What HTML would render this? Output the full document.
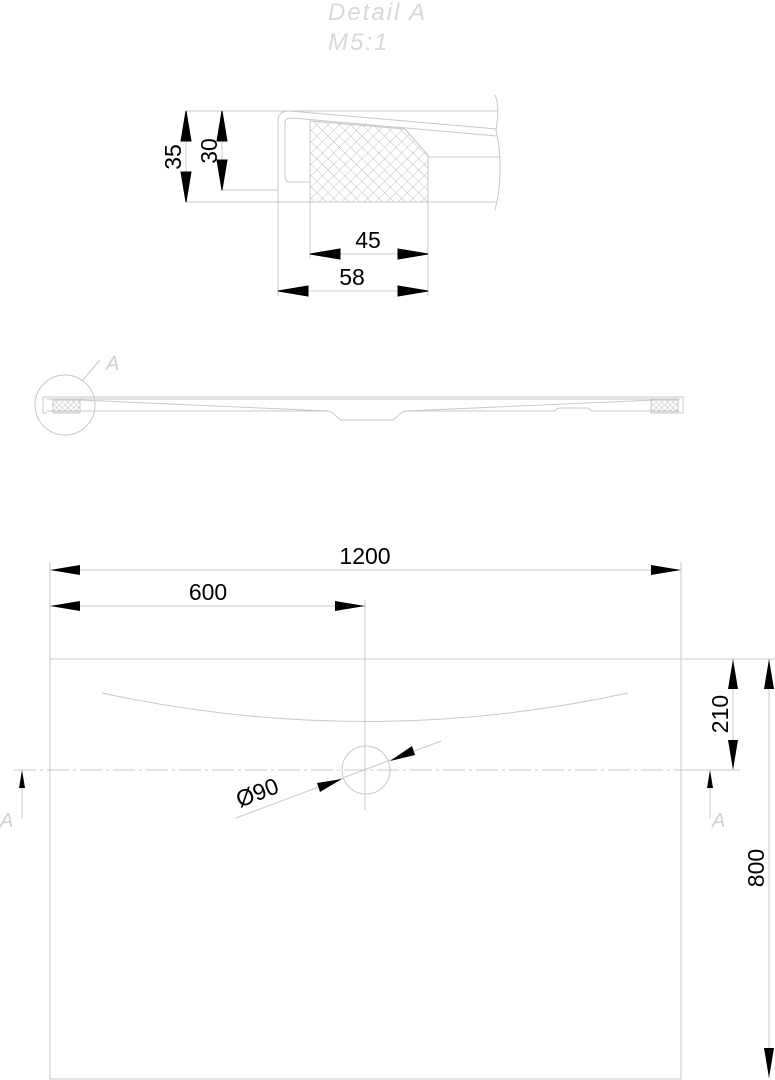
<!DOCTYPE html>
<html><head><meta charset="utf-8"><style>
html,body{margin:0;padding:0;background:#fff;}
svg{display:block;}
text{font-family:"Liberation Sans",sans-serif;}
</style></head><body>
<svg width="775" height="1080" viewBox="0 0 775 1080" xmlns="http://www.w3.org/2000/svg">
<defs>
<pattern id="h" width="8" height="8" patternUnits="userSpaceOnUse" patternTransform="rotate(45)">
<path d="M0 0H8M0 0V8" stroke="#aaa" stroke-width="0.7" fill="none"/>
</pattern>
<pattern id="h2" width="4" height="4" patternUnits="userSpaceOnUse" patternTransform="rotate(45)">
<path d="M0 0H4M0 0V4" stroke="#888" stroke-width="0.5" fill="none"/>
</pattern>
</defs>
<text x="328" y="20" font-size="24" font-style="italic" fill="#d8d8d8" letter-spacing="2">Detail  A</text>
<text x="328" y="50" font-size="24" font-style="italic" fill="#d8d8d8" letter-spacing="2">M5:1</text>

<!-- Detail A -->
<g fill="none" stroke="#c8c8c8" stroke-width="1">
<path d="M186 111H497"/>
<path d="M186 202H497"/>
<path d="M220 190H278"/>
<path d="M278 202V296"/>
<path d="M428 202V296"/>
<path d="M310 202V258"/>
<path d="M278 202V120Q278 111 290 111"/>
<path d="M310 182H290Q285 182 285 177V123Q285 118 292 118L497 136"/>
<path d="M290 111L497 129"/>
<path d="M428 157H500"/>
<path d="M495 95Q500 105 496 130Q505 170 495 210"/>
</g>
<polygon points="310,121 405,129 428,155 428,202 310,202" fill="url(#h)" stroke="#c8c8c8"/>
<g stroke="#000" stroke-width="1" fill="#000">
<path d="M186 111V202M222 111V190" fill="none" stroke="#ccc"/>
<polygon points="186,111 181,141 191,141"/><polygon points="186,202 181,172 191,172"/>
<polygon points="222,111 217,141 227,141"/><polygon points="222,190 217,160 227,160"/>
<path d="M310 254H428M278 291H428" fill="none" stroke="#ccc"/>
<polygon points="310,254 340,249 340,259"/><polygon points="428,254 398,249 398,259"/>
<polygon points="278,291 308,286 308,296"/><polygon points="428,291 398,286 398,296"/>
</g>
<text x="0" y="0" font-size="23" transform="translate(181,157) rotate(-90)" text-anchor="middle">35</text>
<text x="0" y="0" font-size="23" transform="translate(217,151) rotate(-90)" text-anchor="middle">30</text>
<text x="368" y="248" font-size="23" text-anchor="middle">45</text>
<text x="352" y="285" font-size="23" text-anchor="middle">58</text>

<!-- Section -->
<g fill="none" stroke="#c8c8c8" stroke-width="1">
<circle cx="65" cy="405" r="30"/>
<path d="M82 381L100 360"/>
<path d="M43 397H683V413H679"/>
<path d="M43 397V413H47"/>
<path d="M47 399H680"/>
<path d="M47 411H80L328 411Q333 412 336 416L341 420H393L398 416Q401 412 406 411L555 411Q557 408 560 408H588L592 411H679"/>
<path d="M80 400L328 411M406 411L655 400"/>
</g>
<text x="106" y="370" font-size="20" font-style="italic" fill="#d0d0d0">A</text>
<rect x="53" y="400" width="27" height="13" fill="url(#h2)" stroke="#aaa" stroke-width="0.6"/>
<rect x="651" y="400" width="27" height="13" fill="url(#h2)" stroke="#aaa" stroke-width="0.6"/>

<!-- Plan -->
<g fill="none" stroke="#c8c8c8" stroke-width="1">
<rect x="50" y="659" width="631" height="420"/>
<path d="M50 562V659M681 562V659M365 600V810M681 659H775"/>
<path d="M681 770H740"/>
<path d="M102 693Q365 750 628 693"/>
<circle cx="366" cy="770" r="24"/>
<path d="M236 818L441 741"/>
<path d="M14 770H718" stroke-dasharray="22 4 3 4"/>
<path d="M22 780V818M710 780V818"/>
<path d="M50 570H681M50 606H365M733 659V770M769 659V1078"/>
</g>
<g fill="#000">
<polygon points="50,570 80,565 80,575"/><polygon points="681,570 651,565 651,575"/>
<polygon points="50,606 80,601 80,611"/><polygon points="365,606 335,601 335,611"/>
<polygon points="733,659 728,689 738,689"/><polygon points="733,770 728,740 738,740"/>
<polygon points="769,659 764,689 774,689"/><polygon points="769,1078 764,1048 774,1048"/>
<polygon points="22,770 19,788 25,788"/><polygon points="710,770 707,788 713,788"/>
<polygon points="342,779 317,783 320,792"/><polygon points="390,761 412,746 415,755"/>
</g>
<text x="365" y="564" font-size="23" text-anchor="middle">1200</text>
<text x="208" y="600" font-size="23" text-anchor="middle">600</text>
<text x="0" y="0" font-size="23" transform="translate(728,714) rotate(-90)" text-anchor="middle">210</text>
<text x="0" y="0" font-size="23" transform="translate(764,868) rotate(-90)" text-anchor="middle">800</text>
<text x="0" y="0" font-size="23" transform="translate(260,800) rotate(-21)" text-anchor="middle">Ø90</text>
<text x="0" y="827" font-size="20" font-style="italic" fill="#d0d0d0">A</text>
<text x="712" y="827" font-size="20" font-style="italic" fill="#d0d0d0">A</text>
</svg>
</body></html>
